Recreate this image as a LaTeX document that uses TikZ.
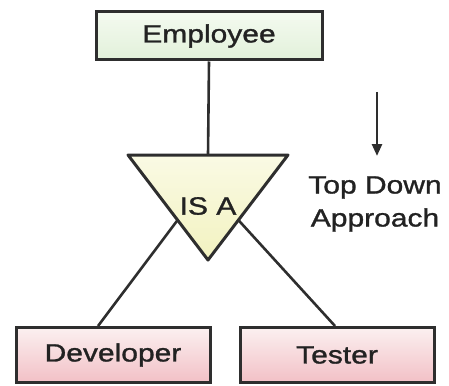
\documentclass[tikz,border=0pt]{standalone}
\usepackage{fontspec}
\usepackage{tikz}
\usetikzlibrary{calc,arrows.meta}
\newfontfamily\labfont[FakeStretch=1.2,FakeBold=1.2]{Liberation Sans}
\definecolor{edge}{HTML}{2E2E2E}
\definecolor{ink}{HTML}{222222}
\definecolor{greentop}{HTML}{F4FAF0}
\definecolor{greenbot}{HTML}{E2F1DA}
\definecolor{pinktop}{HTML}{FBF0F0}
\definecolor{pinkbot}{HTML}{F2C0C6}
\definecolor{yellowtop}{HTML}{FAFAE4}
\definecolor{yellowbot}{HTML}{F2F2C0}
\begin{document}
\begin{tikzpicture}[x=1pt,y=-1pt]
\tikzset{every node/.style={text=ink,font={\labfont\fontsize{25}{33}\selectfont}},
  entity/.style={draw=edge,line width=3pt,minimum height=48pt,inner sep=0pt},
  link/.style={draw=edge,line width=2.6pt}}
\useasboundingbox (0,0) rectangle (449,385);
% top entity
\node [entity,top color=greentop,bottom color=greenbot,minimum width=226pt] (emp) at (209,36) {Employee};
% is-a triangle
\coordinate (tl) at (128,155);
\coordinate (tr) at (288,155);
\coordinate (tip) at (208,260);
\coordinate (ttop) at (208,155);
\shade [top color=yellowtop,bottom color=yellowbot] (tl) -- (tr) -- (tip) -- cycle;
\draw [edge,line width=3pt,line join=round] (tl) -- (tr) -- (tip) -- cycle;
\node (isa) at (208,206) {IS A};
\coordinate (le) at ($(tl)!0.62!(tip)$);
\coordinate (re) at ($(tr)!0.62!(tip)$);
% lower entities
\node [entity,top color=pinktop,bottom color=pinkbot,minimum width=194pt,minimum height=55pt] (dev) at (113,355) {Developer};
\node [entity,top color=pinktop,bottom color=pinkbot,minimum width=194pt,minimum height=55pt] (tst) at (337,355) {Tester};
% connectors
\draw [link] (emp.south) -- (ttop);
\draw [link] ([xshift=-15pt]dev.north) -- (le);
\draw [link] ([xshift=-2pt]tst.north) -- (re);
% direction note
\coordinate (arrtop) at (377,92);
\coordinate (arrbot) at (377,156);
\draw [edge,line width=2.6pt,-{Triangle[length=12pt,width=10pt]}] (arrtop) -- (arrbot);
\node [align=center] (note) at (375,204) {Top Down\\Approach};
\end{tikzpicture}
\end{document}
